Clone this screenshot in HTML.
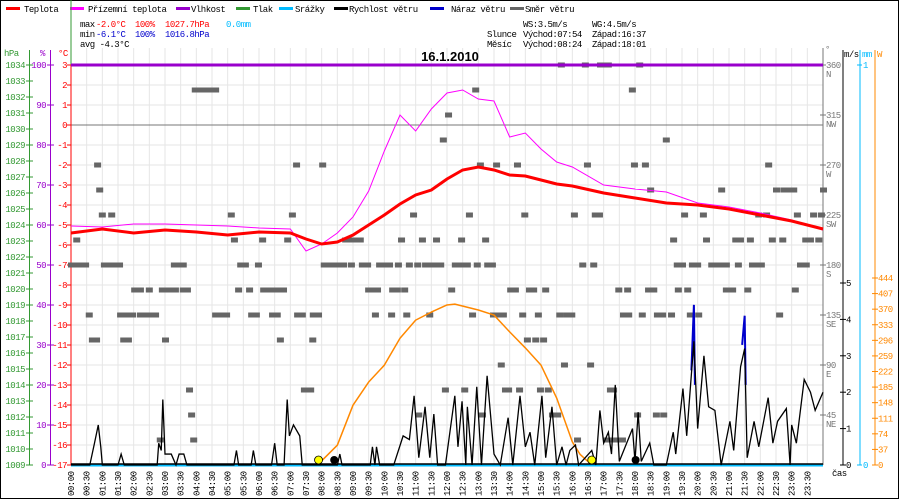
<!DOCTYPE html>
<html><head><meta charset="utf-8"><title>16.1.2010</title>
<style>
html,body{margin:0;padding:0;background:#fff;}
svg{display:block;font-family:"Liberation Mono","DejaVu Sans Mono",monospace;}
svg text{letter-spacing:-0.5px;}
</style></head>
<body>
<svg id="chart" width="900" height="500" viewBox="0 0 900 500" xmlns="http://www.w3.org/2000/svg">
<rect x="0.5" y="0.5" width="898" height="498" fill="#fff" stroke="#000"/>
<g id="legend" font-size="9">
 <g><rect x="6" y="7" width="14" height="3" fill="#f00"/><text x="24" y="12">Teplota</text></g>
 <g><rect x="70" y="7" width="14" height="3" fill="#f0f"/><text x="88" y="12">Přízemní teplota</text></g>
 <g><rect x="176" y="7" width="14" height="3" fill="#90c"/><text x="191" y="12">Vlhkost</text></g>
 <g><rect x="236" y="7" width="14" height="3" fill="#393"/><text x="253" y="12">Tlak</text></g>
 <g><rect x="279" y="7" width="14" height="3" fill="#0bf"/><text x="295" y="12">Srážky</text></g>
 <g><rect x="334" y="7" width="14" height="3" fill="#000"/><text x="349" y="12">Rychlost větru</text></g>
 <g><rect x="430" y="7" width="14" height="3" fill="#00c"/><text x="451" y="12">Náraz větru</text></g>
 <g><rect x="510" y="7" width="14" height="3" fill="#666"/><text x="525" y="12">Směr větru</text></g>
</g>
<g font-size="9">
 <g><text x="80" y="27">max</text><text x="96" y="27" fill="#f00">-2.0°C</text><text x="135" y="27" fill="#f00">100%</text><text x="165" y="27" fill="#f00">1027.7hPa</text><text x="226" y="27" fill="#0bf">0.0mm</text></g>
 <g><text x="80" y="37">min</text><text x="96" y="37" fill="#00c">-6.1°C</text><text x="135" y="37" fill="#00c">100%</text><text x="165" y="37" fill="#00c">1016.8hPa</text></g>
 <g><text x="80" y="47">avg -4.3°C</text></g>
 <g><text x="523" y="27">WS:3.5m/s</text><text x="592" y="27">WG:4.5m/s</text></g>
 <g><text x="487" y="37">Slunce</text><text x="523" y="37">Východ:07:54</text><text x="592" y="37">Západ:16:37</text></g>
 <g><text x="487" y="47">Měsíc</text><text x="523" y="47">Východ:08:24</text><text x="592" y="47">Západ:18:01</text></g>
</g>
<g id="grid"></g>
<g id="axes" font-size="9"></g>
<g id="marks"></g>
<text x="450" y="61" font-size="13" font-weight="bold" text-anchor="middle" font-family="Liberation Sans, sans-serif" style="letter-spacing:0">16.1.2010</text>
</svg>
<script>
// ---- data ----
const tempTimes = [0,1,2,3,4,5,6,7,7.5,8,8.5,9,9.5,10,10.5,11,11.5,12,12.5,13,13.5,14,14.5,15,15.5,16,17,18,19,20,21,22,23,24];
const tempValues = [-5.4,-5.2,-5.4,-5.25,-5.35,-5.5,-5.35,-5.4,-5.7,-5.95,-5.85,-5.5,-5.0,-4.5,-3.95,-3.5,-3.25,-2.7,-2.25,-2.1,-2.25,-2.5,-2.55,-2.75,-2.95,-3.05,-3.4,-3.65,-3.9,-4.0,-4.2,-4.5,-4.8,-5.2];
const apparentValues = [-5.05,-5.1,-4.95,-4.95,-5.0,-5.05,-5.15,-5.2,-6.3,-5.95,-5.4,-4.6,-3.3,-1.3,0.5,-0.3,0.8,1.6,1.75,1.3,1.2,-0.6,-0.4,-1.2,-1.85,-2.1,-3.0,-3.2,-3.35,-3.9,-4.1,-4.4,-4.75,-5.25];
const humidityTimes = [0,24];
const humidityValues = [100,100];
const windTimes = [0,0.6,0.75,0.87,0.95,1.0,1.5,1.6,1.7,2.75,2.8,2.88,2.93,3.0,3.2,3.35,3.45,3.6,3.7,5.2,5.28,5.35,5.75,5.82,5.9,6.4,6.5,6.58,6.8,6.9,6.97,7.1,7.3,7.38,8.5,8.58,8.65,9.55,9.62,9.7,9.75,9.85,10.3,10.6,10.8,10.95,11.1,11.3,11.45,11.58,11.7,11.95,12.25,12.35,12.48,12.6,12.65,12.8,12.95,13.1,13.28,13.5,13.7,13.95,14.1,14.33,14.5,14.65,14.8,15.03,15.15,15.35,15.5,15.67,15.8,15.92,16.1,16.2,16.62,16.75,16.88,17.0,17.15,17.25,17.37,17.5,17.92,18.0,18.1,18.2,18.47,18.6,19.0,19.22,19.3,19.53,19.65,19.88,20.0,20.2,20.35,20.55,20.75,21.03,21.15,21.37,21.5,21.58,21.8,21.95,22.25,22.4,22.55,22.83,22.95,23.0,23.15,23.4,23.6,23.75,24];
const windValues = [0,0,0.6,1.1,0.5,0,0,0.3,0,0,0.6,0.4,1.8,0.3,0.3,0,0.3,0.3,0,0,0.4,0,0,0.4,0,0,0.6,0,0,1.8,0.8,1.1,0.8,0,0,0.3,0,0,0.5,0,0.5,0,0,0.8,0.7,1.9,0.2,1.6,0.2,1.4,0,0,1.9,0.5,1.75,0,1.6,0,2.15,0,2.45,0.3,0,1.3,0,1.9,0.5,0.9,0,1.9,0.2,1.6,0,0.5,0,0.4,0.55,0,0.4,0,1.5,0.6,0.9,0.3,2.2,0.1,1.0,0.1,1.45,0.1,0.6,0,0,0.9,0.3,2.1,0.8,3.4,1.0,3.0,1.6,1.5,0,1.2,0.4,2.7,3.2,0.2,1.2,0.5,1.85,0.6,1.2,1.55,0,1.1,0.6,2.35,2.0,1.5,2.0];
const gustTimes = [19.8,19.88,21.42,21.5];
const gustValues = [2.6,4.4,3.3,4.1];
const solarTimes = [7.9,8,8.5,9,9.5,10,10.5,11,11.5,12,12.25,13,13.5,14,14.5,15,15.5,16,16.25,16.62];
const solarValues = [0,10,47,142,197,237,301,344,363,380,382,368,356,316,278,237,159,55,25,0];
const dirLevels = [360,337.5,315,292.5,270,247.5,225,202.5,180,157.5,135,112.5,90,67.5,45,22.5];
const dirMinutes = [
 [938,984,1013,1021,1028,1088],
 [237,247,257,266,276,774,1074],
 [722],
 [712,1139],
 [50,431,481,783,814,854,988,1078,1099,1335],
 [54,1109,1245,1350,1364,1373,1383,1440],
 [59,77,306,423,655,762,868,963,1003,1011,1174,1210,1316,1331,1390,1421,1436],
 [10,312,366,414,525,534,544,553,632,672,699,747,793,1153,1216,1272,1281,1300,1342,1362,1406,1415,1431],
 [0,8,17,27,63,71,82,92,197,207,214,324,333,358,484,492,502,511,521,536,557,567,590,599,609,626,647,663,678,689,701,707,735,747,758,777,797,806,979,1000,1160,1170,1189,1199,1226,1235,1245,1254,1277,1304,1312,1321,1396,1407],
 [121,132,149,174,182,191,199,214,222,320,341,368,377,385,396,406,569,576,586,615,624,638,728,841,850,877,885,908,1048,1065,1105,1115,1162,1180,1254,1266,1295,1386],
 [34,94,107,117,132,142,151,161,276,285,297,345,354,385,394,433,442,463,473,582,613,642,686,768,808,818,827,864,894,935,948,958,1057,1067,1093,1122,1132,1149,1185,1201,1356],
 [40,48,100,109,180,400,462,873,889,904],
 [823,944,994],
 [226,446,458,716,753,831,837,858,898,913,1032,1038],
 [230,665,787,921,931,1084,1120,1134],
 [170,234,969,1025,1036,1046,1055]
];
const sunEvents = [7.9,16.62];
const moonEvents = [8.4,18.02];
const tempTicks = [3,2,1,0,-1,-2,-3,-4,-5,-6,-7,-8,-9,-10,-11,-12,-13,-14,-15,-16,-17];
const pressureTicks = [1034,1033,1032,1031,1030,1029,1028,1027,1026,1025,1024,1023,1022,1021,1020,1019,1018,1017,1016,1015,1014,1013,1012,1011,1010,1009];
const humidityTicks = [100,90,80,70,60,50,40,30,20,10,0];
const dirTicks = [360,315,270,225,180,135,90,45];
const dirNames = ["N","NW","W","SW","S","SE","E","NE"];
const windTicks = [0,1,2,3,4,5];
const solarTicks = [0,37,74,111,148,185,222,259,296,333,370,407,444];

// ---- scales ----
const X0 = 71, X1 = 823, YTOP = 65, YBOT = 465;
const X = h => X0 + h * (X1 - X0) / 24;
const YT = t => YTOP + (3 - t) * 20;
const YP = p => YTOP + (1034 - p) * 16;
const YH = v => YBOT - v * 4;
const YW = v => YBOT - v * 36.4;
const YS = w => YBOT - w * 187 / 444;
const YD = d => YBOT - d * 400 / 360;
const NS = "http://www.w3.org/2000/svg";
function mk(tag, attrs, parent) {
  const e = document.createElementNS(NS, tag);
  for (const k in attrs) e.setAttribute(k, attrs[k]);
  parent.appendChild(e);
  return e;
}
const grid = document.getElementById('grid');
const axes = document.getElementById('axes');
const marks = document.getElementById('marks');

for (let i = 0; i <= 48; i++) {
  const l = mk('line', {x1: X(i/2), x2: X(i/2), y1: 48, y2: YBOT, stroke: '#e6e6e6', 'stroke-width': 1}, grid);
  
  
}
tempTicks.forEach(t => {
  const l = mk('line', {x1: X0, x2: X1, y1: YT(t), y2: YT(t), stroke: t === 0 ? '#777' : '#e6e6e6', 'stroke-width': 1}, grid);
  
  
});

function vline(x, y1, y2, color, name) {
  const l = mk('line', {x1: x, x2: x, y1: y1, y2: y2, stroke: color, 'stroke-width': 1}, axes);
  
  
}
vline(71, 0, YTOP, '#393', 'header-divider');
vline(29.5, 50, YBOT, '#393', 'pressure-axis');
vline(50.5, 50, YBOT, '#90c', 'humidity-axis');
vline(71, YTOP, YBOT, '#f00', 'temperature-axis');
function label(x, y, txt, color, anchor, name) {
  const t = mk('text', {x: x, y: y, fill: color, 'text-anchor': anchor}, axes);
  t.textContent = txt;
  
  
  return t;
}
label(4, 56, 'hPa', '#393', 'start', 'pressure-axis-title');
label(40, 56, '%', '#90c', 'start', 'humidity-axis-title');
label(58, 56, '°C', '#f00', 'start', 'temperature-axis-title');
pressureTicks.forEach(p => {
  label(25, YP(p) + 3, String(p), '#393', 'end', 'pressure-tick-label');
  mk('line', {x1: 26, x2: 33, y1: YP(p), y2: YP(p), stroke: '#393'}, axes);
});
humidityTicks.forEach(h => {
  label(46, YH(h) + 3, String(h), '#90c', 'end', 'humidity-tick-label');
  mk('line', {x1: 47, x2: 54, y1: YH(h), y2: YH(h), stroke: '#90c'}, axes);
});
tempTicks.forEach(t => {
  label(67, YT(t) + 3, String(t), '#f00', 'end', 'temperature-tick-label');
  mk('line', {x1: 67, x2: 71, y1: YT(t), y2: YT(t), stroke: '#f00'}, axes);
});

vline(823, 48, YBOT, '#777', 'direction-axis');
vline(843, 50, YBOT, '#000', 'wind-axis');
vline(860, 50, YBOT, '#0bf', 'precipitation-axis');
vline(875, 50, YBOT, '#f80', 'solar-axis');
label(825, 52, '°', '#777', 'start', 'direction-axis-title');
label(844, 57, 'm/s', '#000', 'start', 'wind-axis-title');
label(862, 57, 'mm', '#0bf', 'start', 'precipitation-axis-title');
label(877, 57, 'W', '#f80', 'start', 'solar-axis-title');
dirTicks.forEach((d, i) => {
  label(826, YD(d) + 3, String(d), '#777', 'start', 'direction-tick-label');
  label(826, YD(d) + 12, dirNames[i], '#777', 'start', 'direction-name-label');
  mk('line', {x1: 820, x2: 826, y1: YD(d), y2: YD(d), stroke: '#777'}, axes);
});
windTicks.forEach(v => {
  label(846, YW(v) + 3, String(v), '#000', 'start', 'wind-tick-label');
  mk('line', {x1: 840, x2: 846, y1: YW(v), y2: YW(v), stroke: '#000'}, axes);
});
label(863, YTOP + 3, '1', '#0bf', 'start', 'precipitation-tick-label');
label(863, YBOT + 3, '0', '#0bf', 'start', 'precipitation-tick-label');
mk('line', {x1: 857, x2: 862, y1: YTOP, y2: YTOP, stroke: '#0bf'}, axes);
mk('line', {x1: 857, x2: 862, y1: YBOT, y2: YBOT, stroke: '#0bf'}, axes);
solarTicks.forEach(w => {
  label(878, YS(w) + 3, String(w), '#f80', 'start', 'solar-tick-label');
  mk('line', {x1: 872, x2: 878, y1: YS(w), y2: YS(w), stroke: '#f80'}, axes);
});
label(832, 476, 'čas', '#000', 'start', 'x-axis-title');

for (let i = 0; i < 48; i++) {
  const h = i / 2;
  const hh = String(Math.floor(h)).padStart(2, '0');
  const mm = (i % 2) ? '30' : '00';
  const x = X(h) + 3;
  const t = mk('text', {x: x, y: 496, transform: `rotate(-90 ${x} 496)`, fill: '#000'}, axes);
  t.textContent = hh + ':' + mm;
  
  
}

dirLevels.forEach((d, i) => {
  dirMinutes[i].forEach(m => {
    const r = mk('rect', {x: X(m / 60) - 3, y: YD(d) - 2.5, width: 7, height: 5, fill: '#666'}, marks);
    
    
  });
});

const solarPts = solarTimes.map((h, i) => X(h) + ',' + YS(solarValues[i])).join(' ');
const solar = mk('polyline', {points: solarPts, fill: 'none', stroke: '#f80', 'stroke-width': 1.5, 'stroke-linejoin': 'round'}, marks);



const rain = mk('line', {x1: X0, x2: X1, y1: YBOT, y2: YBOT, stroke: '#0bf', 'stroke-width': 3}, marks);



for (let i = 0; i < gustTimes.length; i += 2) {
  const g = mk('polyline', {points: `${X(gustTimes[i])},${YW(gustValues[i])} ${X(gustTimes[i+1])},${YW(gustValues[i+1])} ${X(gustTimes[i+1])+1},${YW(2.2)}`, fill: 'none', stroke: '#00c', 'stroke-width': 2}, marks);
  
  
}

let wp = [];
windTimes.forEach((h, i) => { wp.push(X(h) + ',' + YW(windValues[i])); });
const wind = mk('polyline', {points: wp.join(' '), fill: 'none', stroke: '#000', 'stroke-width': 1.3}, marks);


const wbase = mk('line', {x1: X0, x2: X1, y1: YBOT - 1, y2: YBOT - 1, stroke: '#000', 'stroke-width': 1.5}, marks);



const hum = mk('polyline', {points: humidityTimes.map((h, i) => X(h) + ',' + YH(humidityValues[i])).join(' '), fill: 'none', stroke: '#90c', 'stroke-width': 3}, marks);



const app = mk('polyline', {points: tempTimes.map((h, i) => X(h) + ',' + YT(apparentValues[i])).join(' '), fill: 'none', stroke: '#f0f', 'stroke-width': 1}, marks);



const temp = mk('polyline', {points: tempTimes.map((h, i) => X(h) + ',' + YT(tempValues[i])).join(' '), fill: 'none', stroke: '#f00', 'stroke-width': 3}, marks);



sunEvents.forEach(h => {
  const c = mk('circle', {cx: X(h), cy: 460, r: 4, fill: '#ff0', stroke: '#000', 'stroke-width': 0.8}, marks);
  
  
});
moonEvents.forEach(h => {
  const c = mk('circle', {cx: X(h), cy: 460, r: 4, fill: '#000'}, marks);
  
  
});
</script>
</body></html>
